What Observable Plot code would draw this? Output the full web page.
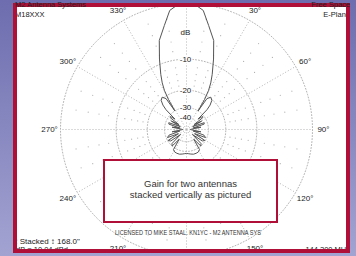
<!DOCTYPE html>
<html>
<head>
<meta charset="utf-8">
<script src="https://cdn.jsdelivr.net/npm/d3@7"></script>
<script src="https://cdn.jsdelivr.net/npm/@observablehq/plot@0.6"></script>
<style>
  html, body { margin: 0; padding: 0; }
  #wrap { position: relative; width: 356px; height: 256px; overflow: hidden;
          background: linear-gradient(to bottom, #6d6daf, #a3a3d2);
          font-family: "Liberation Sans", Arial, sans-serif; color: #222; }
  .panel { position: absolute; left: 13px; top: 3px; width: 337px; height: 250px; background: #fff; }
  .border { position: absolute; left: 13px; top: 3px; width: 337px; height: 250px;
            border: 4px solid #b01038; box-sizing: border-box; }
  #chart { position: absolute; left: 0; top: 0; clip-path: inset(3px 6px 3px 13px); }
  #chart svg { display: block; }
  .corner { position: absolute; font-size: 7.5px; line-height: 7.5px; white-space: nowrap; color: #222; }
  .note { position: absolute; left: 103px; top: 159px; width: 175px; height: 64px;
          border: 2.6px solid #b01038; box-sizing: border-box; background: #fff;
          display: flex; flex-direction: column; justify-content: center; align-items: center;
          font-size: 9.5px; line-height: 11.5px; color: #333; padding-bottom: 4px; }
</style>
</head>
<body>
<div id="wrap">
  <div class="panel"></div>
  <div id="chart"></div>
  <div class="note"><div>Gain for two antennas</div><div>stacked vertically as pictured</div></div>
  <div class="corner" style="left:15px;top:11px;">M18XXX</div>
  <div class="corner" style="right:6px;top:11px;">E-Plane</div>
  <div class="corner" style="left:13px;top:237.5px;font-size:8px;line-height:7px;">2 Stacked ↕ 168.0"</div>
  <div class="corner" style="left:16px;top:245.8px;">dB = 10.04 dBd</div>
  <div class="corner" style="right:6px;top:245.8px;">144.200 MHz</div>
  <div class="border"></div>
  <div class="corner" style="left:15px;top:0.5px;">M2 Antenna Systems</div>
  <div class="corner" style="right:6px;top:0.5px;">Free Space</div>
</div>
<script>
// ---- data ----
const patternBearing = [0,5,8,12,17,21,25,27.5,29.5,31,32,33.5,37,41,44,46,48,51,54,57,61,65,69,73,77,81,86,90,94,99,103,108,113,117,121,126,130,134,139,143,147,152,158,164,170,176,180];
const patternDb = [0,-0.3,-0.8,-2.9,-5.2,-8.8,-12.5,-15,-17.8,-22,-30,-21,-19.5,-20.3,-22.5,-25.5,-36,-31,-31.5,-45,-34,-50,-32.5,-33,-50,-37,-55,-60,-55,-37,-50,-33,-31,-45,-30.5,-32,-48,-31.5,-30,-40,-28.5,-27.5,-27.3,-27.3,-27.8,-28.3,-28.5];
const ringDb = [0,-10,-20,-30,-40];
const tickDb = [-2,-4,-6,-8,-12,-14,-16,-18];
const angleLabelDeg = [30,60,90,120,150,210,240,270,300,330];
const dbLabelDb = [-4.4,-10,-20,-30,-40];
const dbLabelText = ["dB","-10","-20","-30","-40"];
const licenseText = "LICENSED TO MIKE STAAL. KN1YC - M2 ANTENNA SYS";

// ---- helpers (ARRL log scale: 2 dB = factor 0.89 in radius) ----
const dbToR = db => Math.pow(0.89, -db / 2);
const rad = a => a * Math.PI / 180;
const pol = (bearing, rr) => ({x: rr * Math.sin(rad(bearing)), y: rr * Math.cos(rad(bearing))});

// full pattern (symmetric)
const half = patternBearing.map((b, i) => ({b, db: patternDb[i]}));
const full = half.concat(half.slice(0, -1).reverse().map(d => ({b: 360 - d.b, db: d.db})));
const patternPts = full.map(d => pol(d.b, dbToR(d.db)));

// grid rings
const ringPts = [];
ringDb.forEach(db => { for (let a = 0; a <= 360; a += 2) ringPts.push({...pol(a, dbToR(db)), ring: db}); });
// major radials
const majorRadials = d3.range(0, 360, 30).map(a => ({a, ...pol(a, 1)}));
// minor 2 dB tick dots on 10° radials
const tickPts = [];
d3.range(0, 360, 10).filter(a => a % 30 !== 0).forEach(a => tickDb.forEach(db => tickPts.push(pol(a, dbToR(db)))));
// angle labels
const angleLabels = angleLabelDeg.map(a => ({...pol(a, 1.087), t: a + "°"}));
const dbLabels = dbLabelDb.map((db, i) => ({db, t: dbLabelText[i]}));

const W = 356, H = 256, CX = 186, CY = 129, R = 126;
const grid = "#b4b4b4";

const svg = Plot.plot({
  width: W, height: H, margin: 0,
  x: {domain: [-CX / R, (W - CX) / R], axis: null},
  y: {domain: [-(H - CY) / R, CY / R], axis: null},
  style: {background: "transparent", fontFamily: "'Liberation Sans', Arial, sans-serif"},
  marks: [
    Plot.line(ringPts, {x: "x", y: "y", z: "ring", stroke: grid, strokeWidth: 1, strokeDasharray: "1,2"}),
    Plot.link(majorRadials, {x1: d => 0, y1: d => 0, x2: "x", y2: "y", stroke: grid, strokeWidth: 1, strokeDasharray: "1,2"}),
    Plot.dot(tickPts, {x: "x", y: "y", r: 0.6, fill: "#b0b0b0", stroke: null}),
    Plot.line(patternPts, {x: "x", y: "y", stroke: "#555", strokeWidth: 1}),
    Plot.text(dbLabels, {x: d => 0, y: d => dbToR(d.db), text: "t", fontSize: 8, fill: "#222", stroke: "white", strokeWidth: 3, dx: -1}),
    Plot.text(angleLabels, {x: "x", y: "y", text: "t", fontSize: 8, fill: "#222"})
  ]
});

d3.select(svg).append("text")
  .attr("x", 188).attr("y", 234.5)
  .attr("text-anchor", "middle")
  .attr("font-size", 6.5)
  .attr("fill", "#333")
  .attr("textLength", 146)
  .attr("lengthAdjust", "spacingAndGlyphs")
  .text(licenseText);

document.getElementById("chart").appendChild(svg);
</script>
</body>
</html>
